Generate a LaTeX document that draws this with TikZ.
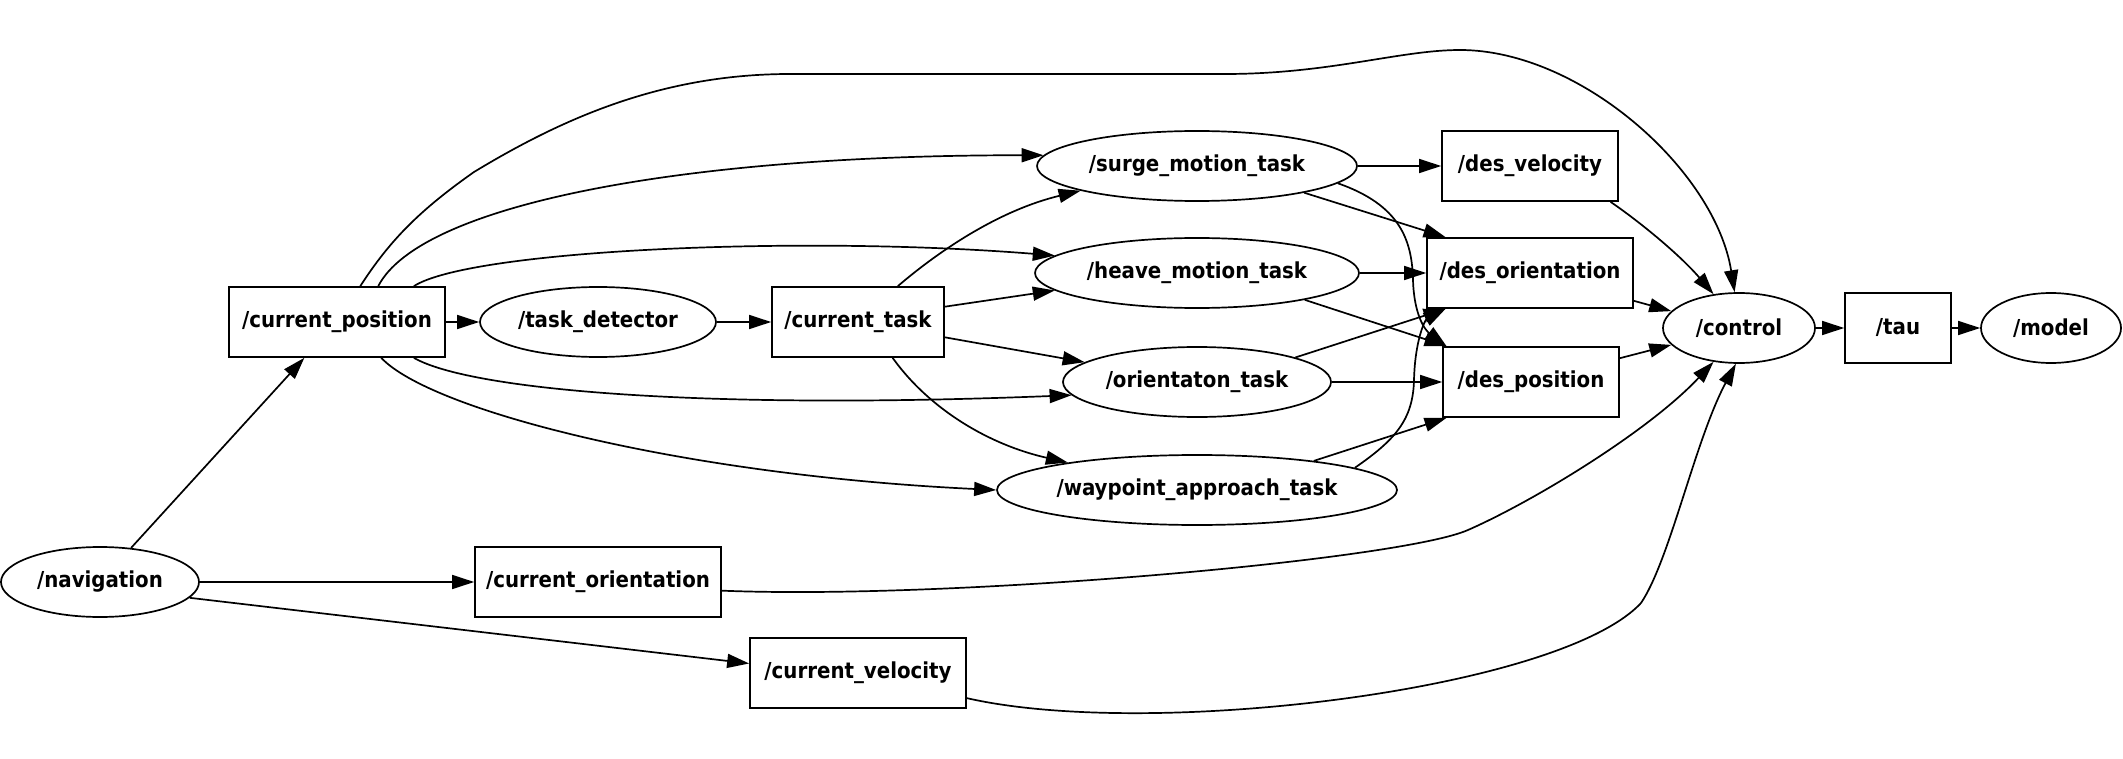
\documentclass[tikz,border=0pt]{standalone}
\usepackage{fontspec}
\usepackage{tikz}
\usetikzlibrary{shapes.geometric, arrows.meta}
\newfontfamily\rotulo{DejaVu Sans Condensed Bold}

\begin{document}
\begin{tikzpicture}[x=1pt, y=-1pt, line width=1.7pt,
    >={Triangle[length=22pt, width=14pt]},
    topico/.style={draw, rectangle, minimum height=70pt, inner sep=0pt,
      font=\rotulo\fontsize{22}{26}\selectfont},
    no/.style={draw, ellipse, minimum height=70pt, inner sep=0pt,
      font=\rotulo\fontsize{22}{26}\selectfont}]
        \useasboundingbox (0,0) rectangle (2123,759);

        % Nos da esquerda
        \node[no, minimum width=198pt] (nav) at (100,582) {/navigation};
        \node[topico, minimum width=216pt] (cp) at (337,322) {/current\_position};
        \node[no, minimum width=236pt] (td) at (598,322) {/task\_detector};
        \node[topico, minimum width=172pt] (ct) at (858,322) {/current\_task};
        \node[topico, minimum width=246pt] (co) at (598,582) {/current\_orientation};
        \node[topico, minimum width=216pt] (cv) at (858,673) {/current\_velocity};

        % Tarefas
        \node[no, minimum width=320pt] (sg) at (1197,166) {/surge\_motion\_task};
        \node[no, minimum width=324pt] (hv) at (1197,273) {/heave\_motion\_task};
        \node[no, minimum width=268pt] (ot) at (1197,382) {/orientaton\_task};
        \node[no, minimum width=400pt] (wp) at (1197,490) {/waypoint\_approach\_task};

        % Referencias
        \node[topico, minimum width=176pt] (dv) at (1530,166) {/des\_velocity};
        \node[topico, minimum width=206pt] (dori) at (1530,273) {/des\_orientation};
        \node[topico, minimum width=176pt] (dp) at (1531,382) {/des\_position};

        % Controle
        \node[no, minimum width=152pt] (ctrl) at (1739,328) {/control};
        \node[topico, minimum width=106pt] (tau) at (1898,328) {/tau};
        \node[no, minimum width=140pt] (model) at (2051,328) {/model};

        % Navegacao
        \draw[->] (nav) -- (cp);
        \draw[->] (nav) -- (co);
        \draw[->] (nav.-10) -- (cv.175);

        % Posicao atual
        \draw[->] (cp) -- (td);
        \draw[->] (td) -- (ct);
        \draw[->] (cp.57) .. controls (390,240) and (420,210) .. (474,172)
            .. controls (560,120) and (660,74) .. (790,74)
            -- (1225,74) .. controls (1330,74) and (1400,50) .. (1460,50)
            .. controls (1580,50) and (1715,170) .. (ctrl.97);
        \draw[->] (cp.41) .. controls (420,205) and (680,155) .. (sg.176);
        \draw[->] (cp.25) .. controls (470,250) and (800,235) .. (hv.173);
        \draw[->] (cp.-25) .. controls (470,390) and (700,410) .. (ot.186);
        \draw[->] (cp.-39) .. controls (430,410) and (680,475) .. (wp.west);

        % Tarefa atual
        \draw[->] (ct.42) .. controls (940,250) and (1000,210) .. (sg.192);
        \draw[->] (ct.10) -- (hv.187);
        \draw[->] (ct.-10) -- (ot.170);
        \draw[->] (ct.-46) .. controls (930,410) and (990,445) .. (wp.168);

        % Tarefas para referencias
        \draw[->] (sg) -- (dv);
        \draw[->] (sg.-14) -- (dori.157);
        \draw[->] (sg.-7) .. controls (1400,205) and (1412,240) .. (1413,280)
            .. controls (1414,315) and (1425,330) .. (dp.157);
        \draw[->] (hv) -- (dori);
        \draw[->] (hv.-14) -- (dp.157);
        \draw[->] (ot.14) -- (dori.-157);
        \draw[->] (ot) -- (dp);
        \draw[->] (wp.14) -- (dp.-157);
        \draw[->] (wp.8) .. controls (1395,440) and (1413,420) .. (1414,380)
            .. controls (1415,340) and (1425,320) .. (dori.-157);

        % Entradas do controle
        \draw[->] (dv.-24) .. controls (1640,222) and (1680,255) .. (ctrl.127);
        \draw[->] (dori.-15) -- (ctrl.166);
        \draw[->] (dp.15) -- (ctrl.194);
        \draw[->] (co.-4) .. controls (950,600) and (1400,560) .. (1468,530)
            .. controls (1536,500) and (1650,430) .. (ctrl.-127);
        \draw[->] (cv.-13) .. controls (1150,740) and (1560,690) .. (1641,603)
            .. controls (1670,560) and (1695,440) .. (ctrl.-95);
        \draw[->] (ctrl) -- (tau);
        \draw[->] (tau) -- (model);
\end{tikzpicture}
\end{document}
